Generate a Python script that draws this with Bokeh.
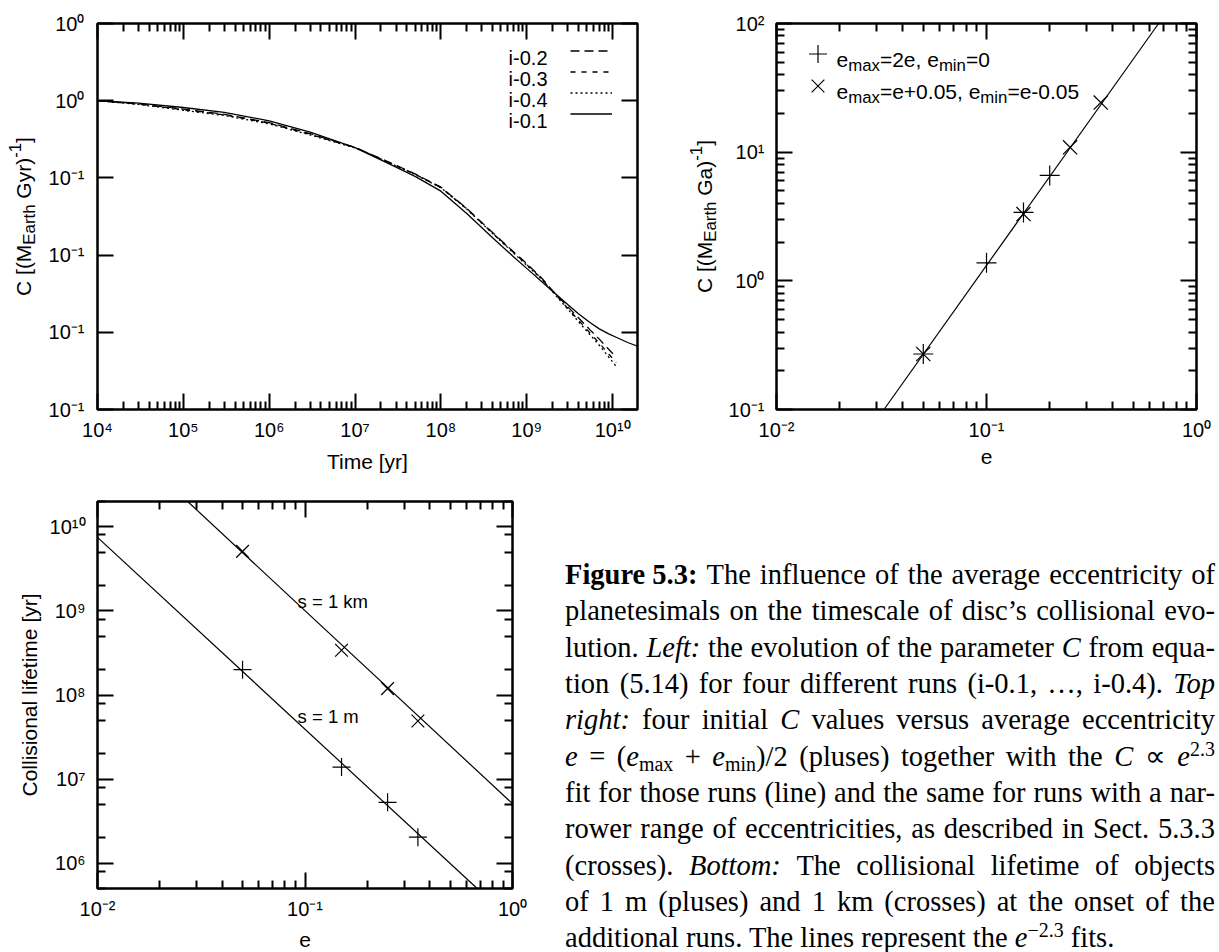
import math
from bokeh.plotting import figure
from bokeh.layouts import row, column
from bokeh.models import (FixedTicker, LogAxis, LinearAxis, Label, Legend,
                          LegendItem, Div, CustomJSTickFormatter)
from bokeh.core.properties import value
from bokeh.embed import file_html
from bokeh.resources import INLINE

SANS = "Liberation Sans"
NBSP = "\u00a0"

# ---------------------------------------------------------------- data
# Left panel: evolution of the parameter C for the four runs
time_yr = [1e4, 3e4, 1e5, 3e5, 1e6, 3e6, 1e7, 3e7, 5e7, 1e8, 2e8, 4e8, 7e8, 1e9,
           1.5e9, 2e9, 3e9, 4e9, 5.5e9, 7e9, 9e9, 1.1e10]
time_i01 = [1e4, 3e4, 1e5, 3e5, 1e6, 3e6, 1e7, 3e7, 5e7, 1e8, 2e8, 4e8, 7e8, 1e9,
            1.5e9, 2e9, 3e9, 4e9, 5.5e9, 7e9, 9e9, 1.1e10, 1.5e10, 2e10]
c_i01 = [1.000, 0.992, 0.978, 0.962, 0.935, 0.898, 0.848, 0.785, 0.755, 0.707, 0.635,
         0.556, 0.495, 0.457, 0.414, 0.383, 0.340, 0.310, 0.281, 0.261, 0.245, 0.234,
         0.217, 0.204]
c_i02 = [1.000, 0.990, 0.973, 0.956, 0.929, 0.893, 0.849, 0.791, 0.763, 0.720, 0.651,
         0.573, 0.511, 0.472, 0.425, 0.385, 0.333, 0.297, 0.257, 0.228, 0.195, 0.170]
c_i03 = [1.000, 0.989, 0.971, 0.954, 0.927, 0.891, 0.848, 0.790, 0.762, 0.719, 0.650,
         0.571, 0.509, 0.469, 0.423, 0.383, 0.328, 0.289, 0.247, 0.215, 0.180, 0.152]
c_i04 = [1.000, 0.988, 0.969, 0.952, 0.925, 0.889, 0.847, 0.789, 0.761, 0.718, 0.649,
         0.570, 0.507, 0.467, 0.421, 0.381, 0.325, 0.285, 0.241, 0.208, 0.170, 0.140]
run_names = ["i-0.2", "i-0.3", "i-0.4", "i-0.1"]

time_ticks = [1e4, 1e5, 1e6, 1e7, 1e8, 1e9, 1e10]
time_tick_labels = ["10⁴", "10⁵", "10⁶", "10⁷", "10⁸", "10⁹", "10¹⁰"]
c_ticks = [0.0, 0.25, 0.5, 0.75, 1.0, 1.25]
c_tick_labels = ["10⁻¹", "10⁻¹", "10⁻¹", "10⁻¹", "10⁰", "10⁰"]

# Top right: initial C versus average eccentricity
e_plus = [0.05, 0.10, 0.15, 0.20]
c_plus = [0.27, 1.38, 3.40, 6.60]
e_cross = [0.05, 0.15, 0.25, 0.35]
c_cross = [0.27, 3.30, 10.9, 24.3]
fit_e = [0.0325, 0.66]
fit_c = [0.1, 100.0]

ecc_ticks = [0.01, 0.1, 1.0]
ecc_tick_labels = ["10⁻²", "10⁻¹", "10⁰"]
cfit_ticks = [0.1, 1.0, 10.0, 100.0]
cfit_tick_labels = ["10⁻¹", "10⁰", "10¹", "10²"]

# Bottom: collisional lifetime of 1 m and 1 km objects
e_runs = [0.05, 0.15, 0.25, 0.35]
life_1m = [2.0e8, 1.39e7, 5.3e6, 2.04e6]
life_1km = [5.1e9, 3.4e8, 1.19e8, 4.9e7]
fit_1m_e = [0.01, 0.676]
fit_1m_t = [7.5e9, 5.0e5]
fit_1km_e = [0.0272, 1.0]
fit_1km_t = [2.0e10, 5.1e6]

life_ticks = [1e6, 1e7, 1e8, 1e9, 1e10]
life_tick_labels = ["10⁶", "10⁷", "10⁸", "10⁹", "10¹⁰"]


# ---------------------------------------------------------------- helpers
def decade_minors(k0, k1, mantissas=range(2, 10)):
    return [m * 10.0 ** k for k in range(k0, k1) for m in mantissas]


def style_axis(ax, ticks, minor, labels=None, standoff=10):
    ax.ticker = FixedTicker(ticks=ticks, minor_ticks=minor)
    ax.axis_line_color = None
    ax.major_tick_in, ax.major_tick_out = 16, 0
    ax.minor_tick_in, ax.minor_tick_out = 8, 0
    ax.major_tick_line_width = 2
    ax.minor_tick_line_width = 2
    ax.major_tick_line_color = "black"
    ax.minor_tick_line_color = "black"
    ax.major_label_standoff = standoff
    ax.major_label_text_font = SANS
    ax.major_label_text_font_size = "20px"
    ax.major_label_text_color = "black"
    ax.axis_label_text_font = SANS
    ax.axis_label_text_font_size = "21px"
    ax.axis_label_text_font_style = "normal"
    ax.axis_label_text_color = "black"
    if labels is None:
        ax.formatter = CustomJSTickFormatter(code="return ''")
        ax.major_label_standoff = 0
        ax.major_label_text_font_size = "0px"
    else:
        ax.major_label_overrides = {t: s for t, s in zip(ticks, labels)}


def base_figure(**kw):
    p = figure(output_backend="svg", toolbar_location=None, **kw)
    p.grid.visible = False
    p.outline_line_color = "black"
    p.outline_line_width = 2.5
    p.outline_line_alpha = 1.0
    p.background_fill_color = "white"
    p.border_fill_color = "white"
    return p


def title_strip(width, frame_h, top, bottom):
    """Axis-free panel that carries a rotated axis title beside a plot."""
    s = figure(output_backend="svg", toolbar_location=None, x_range=(0, width),
               y_range=(0, frame_h), frame_width=width, frame_height=frame_h,
               x_axis_location=None, y_axis_location=None, min_border_left=0,
               min_border_right=0, min_border_top=top, min_border_bottom=bottom)
    s.grid.visible = False
    s.outline_line_color = None
    s.background_fill_color = "white"
    s.border_fill_color = "white"
    return s


def add_mirrors(p, xlog, ylog, xt, xm, yt, ym):
    top = LogAxis() if xlog else LinearAxis()
    right = LogAxis() if ylog else LinearAxis()
    style_axis(top, xt, xm)
    style_axis(right, yt, ym)
    p.add_layout(top, "above")
    p.add_layout(right, "right")


# advance widths of Liberation Sans (1/1000 em), used to lay out rich text runs
ADV = {" ": 278, NBSP: 278, "(": 333, ")": 333, "[": 278, "]": 278, "-": 333,
       "=": 584, "+": 584, ".": 278, ",": 278, "0": 556, "1": 556, "2": 556,
       "5": 556, "C": 722, "E": 667, "G": 778, "M": 833, "a": 556, "e": 556,
       "h": 556, "i": 222, "m": 833, "n": 556, "r": 333, "t": 278, "x": 500,
       "y": 500}


def run_width(s, px):
    return sum(ADV.get(ch, 556) for ch in s) * px / 1000.0


def rich_label(p, x, y, runs, px, vertical=False, dx=0.0, dy=0.0, center=False):
    """Text with sub/superscripts built from several Labels sharing one baseline."""
    script = 0.8 * px
    sizes = [script if kind else px for _, kind in runs]
    widths = [run_width(t, s) for (t, _), s in zip(runs, sizes)]
    pos = -sum(widths) / 2.0 if center else 0.0
    for (t, kind), size, w in zip(runs, sizes, widths):
        shift = {"": 0.0, "sub": -0.3 * px, "sup": 0.42 * px}[kind]
        if vertical:
            xo, yo, ang = dx - shift, dy + pos, math.pi / 2
        else:
            xo, yo, ang = dx + pos, dy + shift, 0.0
        p.add_layout(Label(x=x, y=y, x_offset=xo, y_offset=yo, text=t, angle=ang,
                           text_font=SANS, text_font_size=f"{size:.1f}px",
                           text_color="black", text_align="left",
                           text_baseline="alphabetic"))
        pos += w


def key_legend(p, renderers, left, bottom, gw, gh):
    leg = Legend(items=[LegendItem(label=value(" "), renderers=[r]) for r in renderers],
                 location=(left, bottom), orientation="vertical", padding=0, margin=0,
                 spacing=0, glyph_width=gw, glyph_height=gh, label_width=0,
                 label_height=0, label_standoff=0, label_text_font_size="1px",
                 border_line_color=None, background_fill_alpha=0.0)
    p.add_layout(leg)


# ---------------------------------------------------------------- left: C(t)
T_END = 1.95e10
p1 = base_figure(x_axis_type="log", x_range=(1e4, T_END), y_range=(0.0, 1.25),
                 frame_width=540, frame_height=386, min_border_left=56,
                 min_border_right=36, min_border_top=23, min_border_bottom=71)
time_minor = decade_minors(4, 11)
style_axis(p1.below[0], time_ticks, time_minor, time_tick_labels, standoff=9)
style_axis(p1.left[0], c_ticks, [], c_tick_labels, standoff=13)
p1.below[0].axis_label = "Time [yr]"
p1.below[0].axis_label_standoff = 6
add_mirrors(p1, True, False, time_ticks, time_minor, c_ticks, [])

r02 = p1.line(time_yr, c_i02, line_color="black", line_width=1.3, line_dash="9 5")
r03 = p1.line(time_yr, c_i03, line_color="black", line_width=1.3, line_dash="5 6")
r04 = p1.line(time_yr, c_i04, line_color="black", line_width=1.3, line_dash="2 3")
r01 = p1.line(time_i01, c_i01, line_color="black", line_width=1.3)

key_legend(p1, [r02, r03, r04, r01], 473, 285.5, 42, 21)
for i, name in enumerate(run_names):
    p1.add_layout(Label(x=T_END, y=1.25, x_offset=-90, y_offset=-(27 + 21 * i + 7),
                        text=name, text_align="right", text_baseline="alphabetic",
                        text_font=SANS, text_font_size="20px", text_color="black"))

strip1 = title_strip(41, 386, 23, 71)
rich_label(strip1, 23, 193,
           [("C [(M", ""), ("Earth", "sub"), (NBSP + "Gyr)", ""), ("-1", "sup"), ("]", "")],
           21, vertical=True, center=True)

# ---------------------------------------------------------------- top right: C(e)
p2 = base_figure(x_axis_type="log", y_axis_type="log", x_range=(0.01, 1.0),
                 y_range=(0.1, 100.0), frame_width=420, frame_height=386,
                 min_border_left=48, min_border_right=26, min_border_top=23,
                 min_border_bottom=71)
ecc_minor = decade_minors(-2, 0)
cfit_minor = decade_minors(-1, 2)
style_axis(p2.below[0], ecc_ticks, ecc_minor, ecc_tick_labels, standoff=9)
style_axis(p2.left[0], cfit_ticks, cfit_minor, cfit_tick_labels, standoff=12)
p2.below[0].axis_label = "e"
p2.below[0].axis_label_standoff = 6
add_mirrors(p2, True, True, ecc_ticks, ecc_minor, cfit_ticks, cfit_minor)

p2.line(fit_e, fit_c, line_color="black", line_width=1.2)
rp = p2.scatter(e_plus, c_plus, marker="cross", size=20, line_color="black",
                line_width=1.2, fill_color=None)
rx = p2.scatter(e_cross, c_cross, marker="x", size=20, line_color="black",
                line_width=1.2, fill_color=None)

key_legend(p2, [rp], 18.5, 333.5, 45, 45)
key_legend(p2, [rx], 18.5, 301.5, 45, 45)
rich_label(p2, 0.01, 100.0,
           [("e", ""), ("max", "sub"), ("=2e, e", ""), ("min", "sub"), ("=0", "")],
           21, dx=60, dy=-36)
rich_label(p2, 0.01, 100.0,
           [("e", ""), ("max", "sub"), ("=e+0.05, e", ""), ("min", "sub"), ("=e-0.05", "")],
           21, dx=60, dy=-68)

strip2 = title_strip(52, 386, 23, 71)
rich_label(strip2, 31, 193,
           [("C [(M", ""), ("Earth", "sub"), (NBSP + "Ga)", ""), ("-1", "sup"), ("]", "")],
           21, vertical=True, center=True)

# ---------------------------------------------------------------- bottom: lifetimes
p3 = base_figure(x_axis_type="log", y_axis_type="log", x_range=(0.01, 1.0),
                 y_range=(5e5, 2e10), frame_width=415, frame_height=387,
                 min_border_left=97, min_border_right=30, min_border_top=21,
                 min_border_bottom=64)
life_minor = decade_minors(5, 11, (2, 5, 8))
style_axis(p3.below[0], ecc_ticks, ecc_minor, ecc_tick_labels, standoff=9)
style_axis(p3.left[0], life_ticks, life_minor, life_tick_labels, standoff=12)
p3.below[0].axis_label = "e"
p3.below[0].axis_label_standoff = 10
p3.left[0].axis_label = "Collisional lifetime [yr]"
p3.left[0].axis_label_standoff = 6
add_mirrors(p3, True, True, ecc_ticks, ecc_minor, life_ticks, life_minor)

p3.line(fit_1km_e, fit_1km_t, line_color="black", line_width=1.2)
p3.line(fit_1m_e, fit_1m_t, line_color="black", line_width=1.2)
p3.scatter(e_runs, life_1km, marker="x", size=18, line_color="black", line_width=1.2)
p3.scatter(e_runs, life_1m, marker="cross", size=18, line_color="black", line_width=1.2)
for txt, yv in (("s = 1 km", 1.29e9), ("s = 1 m", 5.56e7)):
    p3.add_layout(Label(x=0.0921, y=yv, text=txt, text_font=SANS,
                        text_font_size="18.5px", text_color="black",
                        text_align="left", text_baseline="alphabetic"))

# ---------------------------------------------------------------- caption
caption_lines = [
    "<b>Figure&nbsp;5.3:</b> The influence of the average eccentricity of",
    "planetesimals on the timescale of disc’s collisional evo-",
    "lution. <i>Left:</i> the evolution of the parameter <i>C</i> from equa-",
    "tion (5.14) for four different runs (i-0.1, …, i-0.4). <i>Top</i>",
    "<i>right:</i> four initial <i>C</i> values versus average eccentricity",
    "<i>e</i> = (<i>e</i><sub>max</sub> + <i>e</i><sub>min</sub>)/2 (pluses) together "
    "with the <i>C</i> ∝ <i>e</i><sup>2.3</sup>",
    "fit for those runs (line) and the same for runs with a nar-",
    "rower range of eccentricities, as described in Sect. 5.3.3",
    "(crosses). <i>Bottom:</i> The collisional lifetime of objects",
    "of 1 m (pluses) and 1 km (crosses) at the onset of the",
    "additional runs. The lines represent the <i>e</i><sup>−2.3</sup> fits.",
]
sub_css = "font-size:70%;line-height:0;vertical-align:-0.25em"
sup_css = "font-size:70%;line-height:0;vertical-align:0.5em"


def styled(token):
    return (token.replace("<sub>", f'<sub style="{sub_css}">')
                 .replace("<sup>", f'<sup style="{sup_css}">'))


LINE_H = 36.35
rows_html = []
for i, ln in enumerate(caption_lines):
    if i < len(caption_lines) - 1:
        words = "".join(f"<span>{styled(w)}</span>" for w in ln.split(" "))
        rows_html.append('<div style="display:flex;justify-content:space-between;'
                         f'white-space:nowrap;height:{LINE_H}px;">{words}</div>')
    else:
        rows_html.append(f'<div style="white-space:nowrap;">{styled(ln)}</div>')
cap_html = ('<div style="margin:72px 0 0 18px;width:650px;'
            "font-family:'Liberation Serif','Times New Roman',serif;font-size:28.5px;"
            f'line-height:{LINE_H}px;color:#000;">' + "".join(rows_html) + "</div>")
caption = Div(text=cap_html, width=677, height=472)

layout = column(row(strip1, p1, strip2, p2, spacing=0),
                row(p3, caption, spacing=0), spacing=0)
open("out.html", "w").write(file_html(layout, INLINE))
